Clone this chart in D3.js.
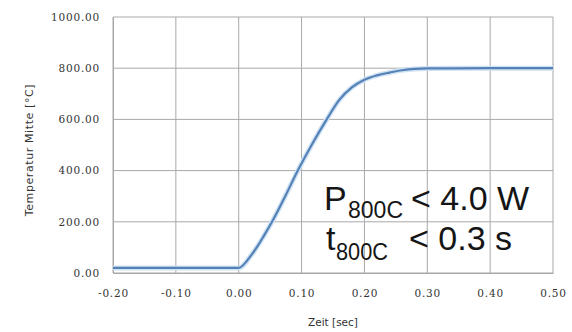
<!DOCTYPE html>
<html>
<head>
<meta charset="utf-8">
<script src="https://cdn.jsdelivr.net/npm/d3@7"></script>
<style>
  body { margin: 0; background: #fff; }
  svg { display: block; }
  .tick text { font-family: "DejaVu Serif", serif; font-size: 10.5px; fill: #333; letter-spacing: 0.8px; }
</style>
</head>
<body>
<svg id="chart" width="572" height="332"></svg>
<script>
// Zeit [sec]
var zeit = [-0.20, 0.00, 0.02, 0.03, 0.04, 0.053, 0.074, 0.094, 0.116, 0.14, 0.16, 0.18, 0.20, 0.22, 0.24, 0.26, 0.28, 0.30, 0.40, 0.50];
// Temperatur Mitte [°C]
var temp = [20, 20, 70, 105, 145, 200, 300, 400, 500, 600, 676, 725, 755, 772, 783, 792, 797, 799, 800, 800];

var xTicks = [-0.2, -0.1, 0, 0.1, 0.2, 0.3, 0.4, 0.5];
var yTicks = [0, 200, 400, 600, 800, 1000];

var margin = {top: 17, right: 19, bottom: 59, left: 113};
var svg = d3.select("#chart");
var W = +svg.attr("width") - margin.left - margin.right;
var H = +svg.attr("height") - margin.top - margin.bottom;

var x = d3.scaleLinear().domain([-0.2, 0.5]).range([0, W]);
var y = d3.scaleLinear().domain([0, 1000]).range([H, 0]);
var fmt = d => d.toFixed(2);

var g = svg.append("g").attr("transform", "translate(" + margin.left + "," + margin.top + ")");

//--Gitter--
g.append("g")
  .selectAll("line").data(yTicks).enter().append("line")
  .attr("x1", 0).attr("x2", W)
  .attr("y1", d => y(d)).attr("y2", d => y(d))
  .attr("stroke", "#a8a8a8").attr("stroke-width", 1);
g.append("g")
  .selectAll("line").data(xTicks).enter().append("line")
  .attr("y1", 0).attr("y2", H)
  .attr("x1", d => x(d)).attr("x2", d => x(d))
  .attr("stroke", "#a8a8a8").attr("stroke-width", 1);

//--Achsen--
var yAxis = g.append("g")
  .call(d3.axisLeft(y).tickValues(yTicks).tickFormat(fmt).tickSize(0).tickPadding(13));
yAxis.select(".domain").attr("stroke", "#a8a8a8");

var xAxis = g.append("g").attr("transform", "translate(0," + H + ")")
  .call(d3.axisBottom(x).tickValues(xTicks).tickFormat(fmt).tickSize(0).tickPadding(17));
xAxis.select(".domain").attr("stroke", "#a8a8a8");

//--Kurve--
var pts = zeit.map((t, i) => [t, temp[i]]);
var line = d3.line().x(d => x(d[0])).y(d => y(d[1])).curve(d3.curveMonotoneX);

g.append("path").datum(pts)
  .attr("d", line)
  .attr("fill", "none")
  .attr("stroke", "#cfe2f4")
  .attr("stroke-width", 5);
g.append("path").datum(pts)
  .attr("d", line)
  .attr("fill", "none")
  .attr("stroke", "#5582b6")
  .attr("stroke-width", 2.2);

//--Achsentitel--
svg.append("text")
  .attr("x", margin.left + W / 2).attr("y", 326)
  .attr("text-anchor", "middle")
  .style("font-family", "'DejaVu Sans', sans-serif").style("font-size", "10.5px").style("fill", "#333")
  .text("Zeit [sec]");
svg.append("text")
  .attr("transform", "translate(33,150) rotate(-90)")
  .attr("text-anchor", "middle")
  .style("font-family", "'DejaVu Sans', sans-serif").style("font-size", "11px").style("fill", "#333")
  .style("letter-spacing", "0.6px")
  .text("Temperatur Mitte [°C]");

//--Anmerkung--
var note = svg.append("g").style("font-family", "'Liberation Sans', Arial, sans-serif").style("fill", "#151515");
var t1 = note.append("text").attr("x", 324).attr("y", 210).style("font-size", "34px");
t1.append("tspan").text("P");
t1.append("tspan").attr("x", 348).attr("dy", 8).style("font-size", "23px")
  .attr("textLength", 55).attr("lengthAdjust", "spacingAndGlyphs").text("800C");
t1.append("tspan").attr("x", 411).attr("dy", -8).text("< 4.0 W");
var t2 = note.append("text").attr("x", 326).attr("y", 250).style("font-size", "34px");
t2.append("tspan").text("t");
t2.append("tspan").attr("x", 336).attr("dy", 10).style("font-size", "23px")
  .attr("textLength", 52).attr("lengthAdjust", "spacingAndGlyphs").text("800C");
t2.append("tspan").attr("x", 409).attr("dy", -10).text("< 0.3 s");
</script>
</body>
</html>
